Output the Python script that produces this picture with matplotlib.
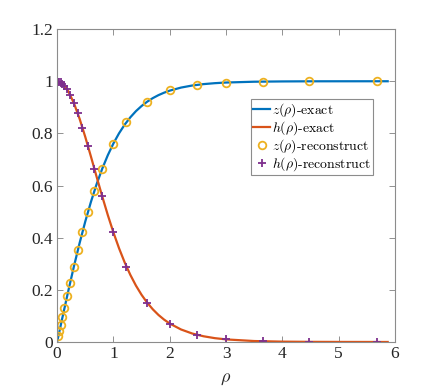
import matplotlib
matplotlib.use("Agg")
import matplotlib.pyplot as plt

# exact curves
rho_line = [0, 0.1, 0.2, 0.3, 0.4, 0.5, 0.6, 0.7, 0.8, 0.9, 1.0, 1.1, 1.2, 1.3, 1.4,
            1.5, 1.6, 1.7, 1.8, 1.9, 2.0, 2.2, 2.4, 2.6, 2.8, 3.0, 3.5, 4.0, 4.5,
            5.0, 5.87]
z_exact = [0, 0.0997, 0.1974, 0.2913, 0.3799, 0.4621, 0.5370, 0.6044, 0.6640,
           0.7163, 0.7616, 0.8005, 0.8337, 0.8617, 0.8854, 0.9051, 0.9217, 0.9354,
           0.9468, 0.9562, 0.9640, 0.9757, 0.9837, 0.9890, 0.9926, 0.9951, 0.9982,
           0.9993, 0.9998, 0.9999, 1.0]
h_exact = [1.0, 0.9901, 0.9610, 0.9151, 0.8556, 0.7864, 0.7116, 0.6347, 0.5591,
           0.4869, 0.4200, 0.3592, 0.3050, 0.2574, 0.2161, 0.1807, 0.1505, 0.1251,
           0.1036, 0.0857, 0.0707, 0.0480, 0.0324, 0.0219, 0.0147, 0.0099, 0.0036,
           0.0013, 0.0005, 0.0002, 0.0]

# reconstructed samples
rho_pts = [0.02, 0.04, 0.065, 0.095, 0.13, 0.18, 0.23, 0.295, 0.365, 0.45, 0.54,
           0.66, 0.80, 0.99, 1.22, 1.59, 2.01, 2.48, 2.99, 3.65, 4.48, 5.68]
z_rec = [0.023, 0.043, 0.065, 0.095, 0.131, 0.177, 0.228, 0.287, 0.351, 0.423, 0.497,
         0.58, 0.665, 0.76, 0.845, 0.922, 0.965, 0.987, 0.995, 0.999, 1.0, 1.0]
h_rec = [0.999, 0.998, 0.996, 0.991, 0.983, 0.969, 0.948, 0.918, 0.877, 0.821, 0.753,
         0.664, 0.558, 0.422, 0.286, 0.15, 0.069, 0.028, 0.01, 0.003, 0.0005, 0.0]

xticks = [0, 1, 2, 3, 4, 5, 6]
yticks = [0, 0.2, 0.4, 0.6, 0.8, 1.0, 1.2]
ytick_labels = ["0", "0.2", "0.4", "0.6", "0.8", "1", "1.2"]

plt.rcParams["mathtext.fontset"] = "cm"

fig = plt.figure(figsize=(4.36, 3.88), dpi=100)
ax = fig.add_axes([0.131, 0.1186, 0.775, 0.8064])

ax.plot(rho_line, z_exact, color="#0072BD", lw=1.6, label=r"$z(\rho)$-exact")
ax.plot(rho_line, h_exact, color="#D95319", lw=1.6, label=r"$h(\rho)$-exact")
ax.plot(rho_pts, z_rec, "o", color="#EDB120", mfc="none", ms=5.5, mew=1.3,
        label=r"$z(\rho)$-reconstruct")
ax.plot(rho_pts, h_rec, "+", color="#7E2F8E", ms=6, mew=1.3,
        label=r"$h(\rho)$-reconstruct")

ax.set_xlim(0, 6)
ax.set_ylim(0, 1.2)
ax.set_xticks(xticks)
ax.set_yticks(yticks)
ax.set_xticklabels([str(t) for t in xticks], family="Liberation Serif", fontsize=12.5)
ax.set_yticklabels(ytick_labels, family="Liberation Serif", fontsize=12.5)
ax.tick_params(direction="in", top=True, right=True, length=4, width=0.6,
               color="#808080", labelcolor="#262626", pad=3)
for s in ax.spines.values():
    s.set_color("#8c8c8c")
    s.set_linewidth(0.8)

ax.set_xlabel(r"$\rho$", fontsize=13, color="#262626", labelpad=5)

leg = ax.legend(loc="upper left", bbox_to_anchor=(0.574, 0.776), borderaxespad=0,
                prop={"family": "cmr10", "size": 9.9}, handlelength=1.25,
                handletextpad=0.15, labelspacing=0.02, borderpad=0.15,
                fancybox=False, framealpha=1, edgecolor="#8c8c8c")
leg.get_frame().set_linewidth(0.8)

fig.savefig("out.png", dpi=100)
